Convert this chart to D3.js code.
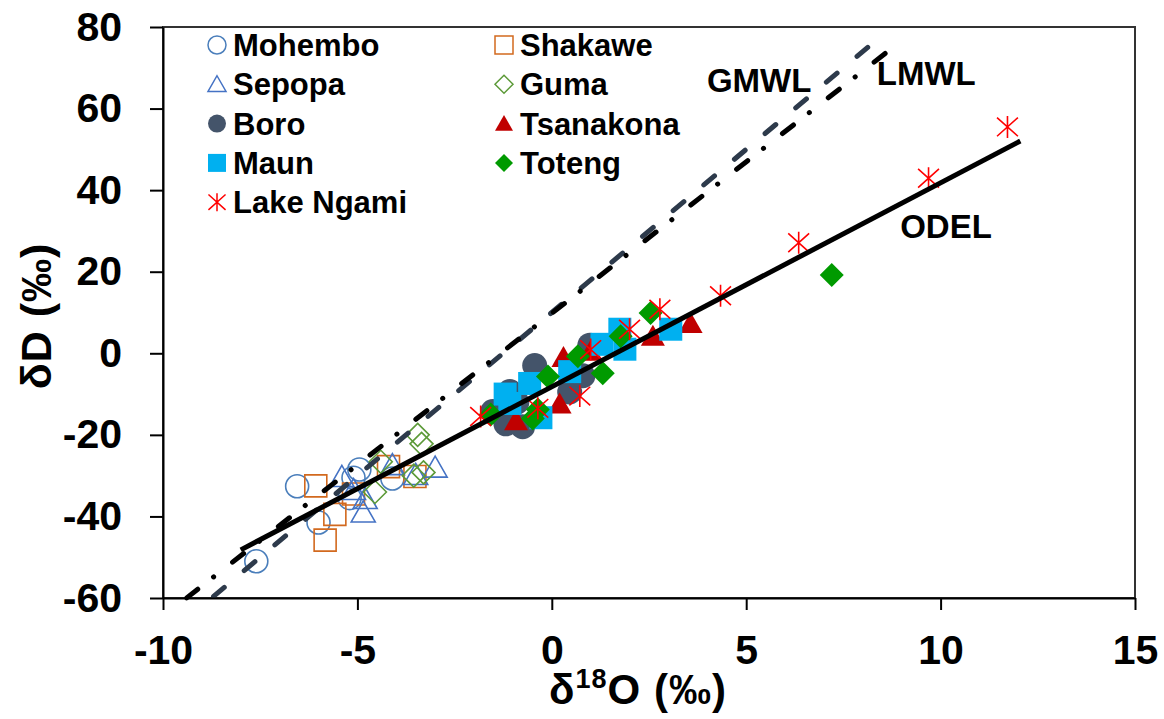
<!DOCTYPE html>
<meta charset="utf-8">
<script src="https://d3js.org/d3.v7.min.js"></script>
<style>
  body { margin: 0; background: #fff; }
  text { font-family: "Liberation Sans", Arial, sans-serif; font-weight: bold; }
</style>
<div id="my_dataviz"></div>
<script>

  // sampling sites, [d18O, dD]
  var mohembo   = [[-7.6,-51],[-6.55,-32.6],[-6.0,-41.5],[-5.2,-35.5],[-4.95,-28.5],[-5.1,-30.5],[-4.1,-30.7]]
  var shakawe   = [[-6.07,-32.5],[-5.58,-39.5],[-5.83,-45.8],[-5.1,-34.5],[-4.2,-27.8],[-3.52,-30.2]]
  var sepopa    = [[-5.4,-30.3],[-4.85,-39],[-4.8,-35.7],[-5.1,-33.5],[-4.1,-27.4],[-3.5,-29.8],[-3.0,-28]]
  var guma      = [[-3.45,-20],[-3.35,-22.2],[-4.4,-26.6],[-4.55,-34],[-3.55,-30],[-3.3,-29.2]]
  var boro      = [[-0.44,-3],[-1.08,-9.4],[-1.52,-14.3],[-1.18,-17.3],[-0.75,-18],[0.46,-9.5],[0.98,2],[0.8,-5.5],[-0.9,-12]]
  var tsanakona = [[3.57,7.3],[2.6,4.2],[0.3,-1.0],[0.2,-12.4],[-0.92,-16.5],[1.0,0.5]]
  var maun      = [[-1.08,-12.3],[-0.57,-7.4],[-0.28,-15.8],[0.46,-4.5],[1.29,2.2],[1.88,1.0],[1.75,5.9],[3.06,5.9],[-1.2,-10]]
  var toteng    = [[7.2,19.2],[2.54,9.9],[1.77,4.2],[0.67,-0.7],[1.31,-4.9],[-0.1,-5.7],[-0.36,-13.8],[-0.49,-16],[-1.57,-15.0]]
  var lakeNgami = [[-1.83,-15.5],[-0.36,-13.5],[0.72,-10.5],[1.0,0.9],[2.0,5.9],[2.78,10.8],[4.34,14.1],[6.35,27.1],[9.69,42.9],[11.72,55.5]]

  // regression lines: dD = slope * d18O + intercept
  var lineNames      = ["GMWL", "LMWL", "ODEL"]
  var lineSlopes     = [8, 7.43, 5.0]
  var lineIntercepts = [10, 9.8, -8.2]
  var lineFrom       = [-8.7, -9.39, -8.0]
  var lineTo         = [8.55, 8.86, 12.05]

  var xTicks = [-10, -5, 0, 5, 10, 15]
  var yTicks = [-60, -40, -20, 0, 20, 40, 60, 80]

  var series = [
    {name: "Mohembo",    data: mohembo,   shape: "circle",   fill: "none",    stroke: "#4a7ebb", size: 23},
    {name: "Shakawe",    data: shakawe,   shape: "square",   fill: "none",    stroke: "#d2691e", size: 22},
    {name: "Sepopa",     data: sepopa,    shape: "triangle", fill: "none",    stroke: "#4472c4", size: 24},
    {name: "Guma",       data: guma,      shape: "diamond",  fill: "none",    stroke: "#5c9a38", size: 23},
    {name: "Boro",       data: boro,      shape: "circle",   fill: "#44546a", stroke: "none",    size: 25},
    {name: "Tsanakona",  data: tsanakona, shape: "triangle", fill: "#c00000", stroke: "none",    size: 24},
    {name: "Maun",       data: maun,      shape: "square",   fill: "#00b0f0", stroke: "none",    size: 23},
    {name: "Toteng",     data: toteng,    shape: "diamond",  fill: "#009a00", stroke: "none",    size: 24},
    {name: "Lake Ngami", data: lakeNgami, shape: "asterisk", fill: "none",    stroke: "#ff0000", size: 22}
  ]
  var legendCol1 = ["Mohembo", "Sepopa", "Boro", "Maun", "Lake Ngami"]
  var legendCol2 = ["Shakawe", "Guma", "Tsanakona", "Toteng"]

  var W = 1164, H = 719
  var svg = d3.select("#my_dataviz").append("svg")
    .attr("width", W).attr("height", H)

  var x = d3.scaleLinear().domain([-10, 15]).range([163, 1135])
  var y = d3.scaleLinear().domain([-60, 80]).range([598, 27])

  // marker path centred on 0,0 with overall width s
  function markerPath(shape, s) {
    var h = s / 2
    if (shape == "circle") return d3.symbol(d3.symbolCircle, Math.PI * h * h)()
    if (shape == "square") return "M" + -h + "," + -h + "H" + h + "V" + h + "H" + -h + "Z"
    if (shape == "triangle") return "M0," + (-h * 0.95) + "L" + h + "," + (h * 0.8) + "L" + -h + "," + (h * 0.8) + "Z"
    if (shape == "diamond") return "M0," + -h + "L" + h + ",0L0," + h + "L" + -h + ",0Z"
    // asterisk: vertical bar plus an X
    return "M0," + -h + "V" + h +
      "M" + (-h * 0.95) + "," + (-h * 0.85) + "L" + (h * 0.95) + "," + (h * 0.85) +
      "M" + (-h * 0.95) + "," + (h * 0.85) + "L" + (h * 0.95) + "," + (-h * 0.85)
  }

  // plot area frame
  svg.append("rect")
    .attr("x", x(-10)).attr("y", y(80))
    .attr("width", x(15) - x(-10)).attr("height", y(-60) - y(80))
    .attr("fill", "none").attr("stroke", "#333").attr("stroke-width", 2)

  // points
  series.forEach(function(s) {
    svg.append("g").selectAll("path")
      .data(s.data)
      .enter()
      .append("path")
        .attr("transform", function(d) { return "translate(" + x(d[0]) + "," + y(d[1]) + ")" })
        .attr("d", markerPath(s.shape, s.size))
        .attr("fill", s.fill)
        .attr("stroke", s.stroke)
        .attr("stroke-width", 1.6)
  })

  // lines
  var lineStyles = {
    GMWL: {color: "#2d3a4b", dash: "14,26"},
    LMWL: {color: "#000", dash: "14,20,0.1,24"},
    ODEL: {color: "#000", dash: null}
  }
  lineNames.forEach(function(n, i) {
    var pts = [lineFrom[i], lineTo[i]].map(function(v) { return [v, lineSlopes[i] * v + lineIntercepts[i]] })
    svg.append("path")
      .attr("d", d3.line().x(function(d) { return x(d[0]) }).y(function(d) { return y(d[1]) })(pts))
      .attr("fill", "none")
      .attr("stroke", lineStyles[n].color)
      .attr("stroke-width", 5)
      .attr("stroke-linecap", lineStyles[n].dash ? "round" : "butt")
      .attr("stroke-dasharray", lineStyles[n].dash)
  })

  // line labels
  var lineLabelPos = {GMWL: [3.99, 64], LMWL: [8.36, 65.8], ODEL: [8.96, 28.2]}
  lineNames.forEach(function(n) {
    svg.append("text")
      .attr("x", x(lineLabelPos[n][0])).attr("y", y(lineLabelPos[n][1]))
      .style("font-size", "33px")
      .text(n)
  })

  // axes (plain hyphen minus, like the original)
  var fmt = function(d) { return String(d) }
  var yAxis = svg.append("g")
    .attr("transform", "translate(" + x(-10) + ",0)")
    .call(d3.axisLeft(y).tickValues(yTicks).tickFormat(fmt).tickSize(13).tickSizeOuter(0).tickPadding(28))
  var xAxis = svg.append("g")
    .attr("transform", "translate(0," + y(-60) + ")")
    .call(d3.axisBottom(x).tickValues(xTicks).tickFormat(fmt).tickSize(12).tickSizeOuter(0).tickPadding(25))
  ;[xAxis, yAxis].forEach(function(a) {
    a.select(".domain").attr("stroke", "#000").attr("stroke-width", 2)
    a.selectAll(".tick line").attr("stroke", "#000").attr("stroke-width", 2)
    a.selectAll(".tick text")
      .attr("fill", "#000")
      .style("font-family", "'Liberation Sans', Arial, sans-serif")
      .style("font-weight", "bold")
      .style("font-size", "41px")
  })

  // axis titles
  svg.append("text")
    .attr("transform", "translate(51,316) rotate(-90)")
    .attr("text-anchor", "middle")
    .style("font-size", "43px")
    .style("letter-spacing", "1px")
    .text("δD (‰)")
  var xt = svg.append("text")
    .attr("x", 638).attr("y", 704)
    .attr("text-anchor", "middle")
    .style("font-size", "42px")
    .style("letter-spacing", "1px")
  xt.append("tspan").text("δ")
  xt.append("tspan").attr("dy", -16).style("font-size", "27px").text("18")
  xt.append("tspan").attr("dy", 16).text("O (‰)")

  // legend
  function drawLegend(names, mx) {
    names.forEach(function(name, i) {
      var s = series.find(function(d) { return d.name == name })
      var ly = 45 + i * 39.3
      svg.append("path")
        .attr("transform", "translate(" + mx + "," + ly + ")")
        .attr("d", markerPath(s.shape, 18))
        .attr("fill", s.fill)
        .attr("stroke", s.stroke)
        .attr("stroke-width", 1.5)
      svg.append("text")
        .attr("x", mx + 16).attr("y", ly)
        .attr("dy", "0.36em")
        .style("font-size", "31px")
        .text(name)
    })
  }
  drawLegend(legendCol1, 217)
  drawLegend(legendCol2, 504)

</script>
